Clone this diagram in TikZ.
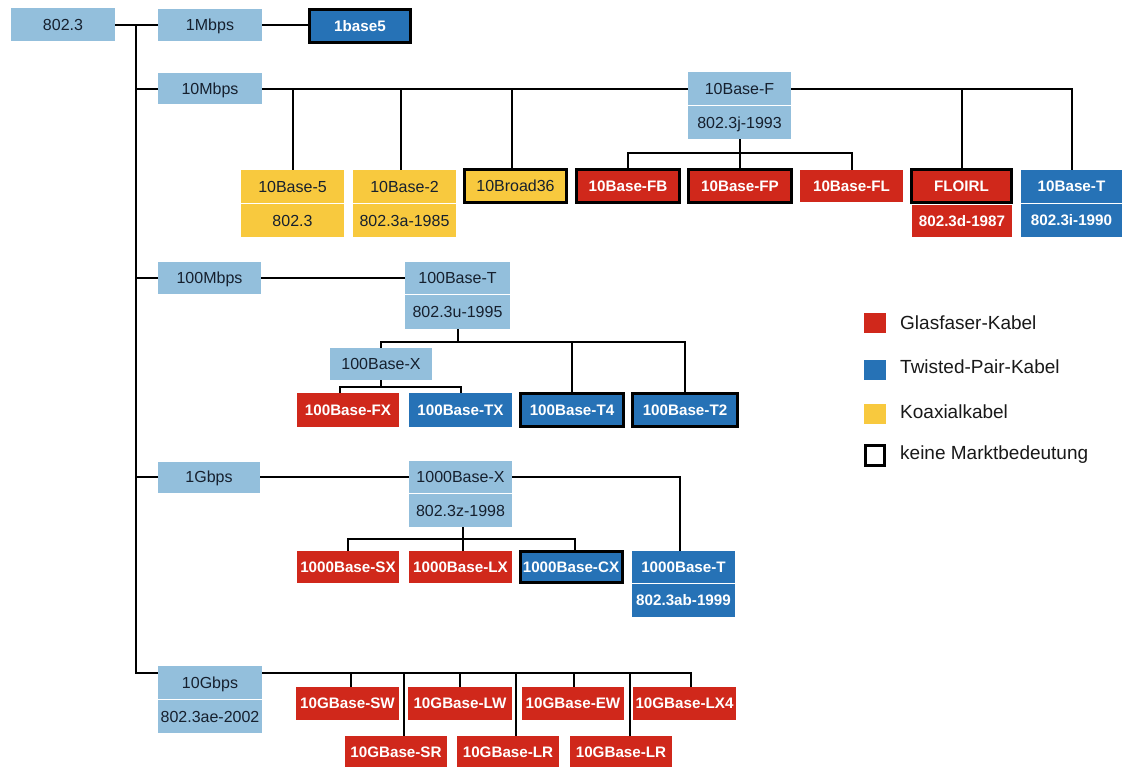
\documentclass[tikz,border=0pt]{standalone}
\usepackage{fontspec}
\setmainfont{Liberation Sans}
\definecolor{lblue}{HTML}{93BFDC}
\definecolor{cblue}{HTML}{2672B6}
\definecolor{cred}{HTML}{D0281B}
\definecolor{cyel}{HTML}{F8C93E}
\definecolor{ink}{HTML}{16202E}
\begin{document}
\begin{tikzpicture}[x=1pt,y=-1pt,
  box/.style={rectangle, inner sep=0pt, text height=11.5pt, text depth=0pt},
  sz/.style 2 args={minimum width=#1, minimum height=#2},
  lb/.style={box, fill=lblue, text=ink, font=\fontsize{16}{18}\selectfont},
  yl/.style={box, fill=cyel, text=ink, font=\fontsize{16}{18}\selectfont},
  rd/.style={box, fill=cred, text=white, font=\fontsize{15.2}{18}\selectfont\bfseries, text height=10.9pt},
  bl/.style={box, fill=cblue, text=white, font=\fontsize{15.2}{18}\selectfont\bfseries, text height=10.9pt},
  nomkt/.style={draw=black, line width=3pt},
  wire/.style={draw=black, line width=2pt},
  legsq/.style={rectangle, inner sep=0pt, minimum width=22pt, minimum height=20pt},
  legtxt/.style={anchor=base west, inner sep=0pt, text=black!90, font=\fontsize{19}{22}\selectfont}]
\useasboundingbox[fill=white] (0,0) rectangle (1127,767);

% ---------- root and 1 Mbps ----------
\node[lb, sz={104pt}{33pt}] (root) at (63,25) {802.3};
\node[lb, sz={104pt}{32pt}] (m1) at (210,25) {1Mbps};
\node[bl, nomkt, sz={101pt}{33pt}] (ob5) at (360,26) {1base5};

% ---------- 10 Mbps ----------
\node[lb, sz={104pt}{31pt}] (m10) at (210,89) {10Mbps};
\node[lb, sz={103pt}{33pt}] (tbf) at (739.5,89) {10Base-F};
\node[lb, sz={103pt}{33pt}] (bbf) at (739.5,122.5) {802.3j-1993};

\node[yl, sz={103pt}{33pt}] (t5) at (292.5,186.5) {10Base-5};
\node[yl, sz={103pt}{33pt}] (b5) at (292.5,220.5) {802.3};
\node[yl, sz={103pt}{33pt}] (t2) at (404.5,186.5) {10Base-2};
\node[yl, sz={103pt}{33pt}] (b2) at (404.5,220.5) {802.3a-1985};
\node[yl, nomkt, sz={102pt}{33pt}] (br36) at (515.5,186) {10Broad36};
\node[rd, nomkt, sz={103pt}{33pt}] (fb) at (628,186) {10Base-FB};
\node[rd, nomkt, sz={103pt}{33pt}] (fp) at (740,186) {10Base-FP};
\node[rd, sz={103pt}{32pt}] (fl) at (851.5,186) {10Base-FL};
\node[rd, nomkt, sz={100pt}{33pt}] (floirl) at (961.5,186) {FLOIRL};
\node[rd, sz={100pt}{32pt}] (floirlb) at (962,221) {802.3d-1987};
\node[bl, sz={101pt}{33pt}] (tt) at (1071.5,186.5) {10Base-T};
\node[bl, sz={101pt}{33pt}] (bt) at (1071.5,220.5) {802.3i-1990};

% ---------- 100 Mbps ----------
\node[lb, sz={103pt}{32pt}] (m100) at (209.5,278) {100Mbps};
\node[lb, sz={105pt}{32pt}] (t100) at (457.5,278) {100Base-T};
\node[lb, sz={105pt}{34pt}] (b100) at (457.5,312) {802.3u-1995};
\node[lb, sz={102pt}{32pt}] (x100) at (381,364) {100Base-X};
\node[rd, sz={102pt}{34pt}] (fx) at (348,410) {100Base-FX};
\node[bl, sz={103pt}{34pt}] (tx) at (460.5,410) {100Base-TX};
\node[bl, nomkt, sz={103pt}{33pt}] (t4) at (572,410) {100Base-T4};
\node[bl, nomkt, sz={105pt}{33pt}] (t2b) at (685,410) {100Base-T2};

% ---------- 1 Gbps ----------
\node[lb, sz={102pt}{31pt}] (m1g) at (209,477) {1Gbps};
\node[lb, sz={103pt}{32pt}] (txx) at (460.5,477) {1000Base-X};
\node[lb, sz={103pt}{33pt}] (bxx) at (460.5,510.5) {802.3z-1998};
\node[rd, sz={102pt}{32pt}] (sx) at (348,567) {1000Base-SX};
\node[rd, sz={103pt}{32pt}] (lx) at (460.5,567) {1000Base-LX};
\node[bl, nomkt, sz={102pt}{31pt}] (cx) at (571,567) {1000Base-CX};
\node[bl, sz={103pt}{32pt}] (tg) at (683.5,567) {1000Base-T};
\node[bl, sz={103pt}{33pt}] (bg) at (683.5,600.5) {802.3ab-1999};

% ---------- 10 Gbps ----------
\node[lb, sz={104pt}{33pt}] (m10g) at (210,682.5) {10Gbps};
\node[lb, sz={104pt}{33pt}] (m10gb) at (210,716.5) {802.3ae-2002};
\node[rd, sz={103pt}{33pt}] (sw) at (347.5,703.5) {10GBase-SW};
\node[rd, sz={104pt}{33pt}] (lw) at (460,703.5) {10GBase-LW};
\node[rd, sz={102pt}{33pt}] (ew) at (573,703.5) {10GBase-EW};
\node[rd, sz={103pt}{33pt}] (lx4) at (684.5,703.5) {10GBase-LX4};
\node[rd, sz={102pt}{32pt}] (sr) at (396,752) {10GBase-SR};
\node[rd, sz={102pt}{32pt}] (lr1) at (508,752) {10GBase-LR};
\node[rd, sz={102pt}{32pt}] (lr2) at (621,752) {10GBase-LR};

% ---------- connectors ----------
\coordinate (tk) at (136,25);
\path (m10g.north east) ++(0,7) coordinate (g0);
\draw[wire] (root) -- (m1);
\draw[wire] (m1.east) -- (m1.east -| ob5.west);
\draw[wire] (tk) -- (tk |- g0) -- (m10g.west |- g0);
\draw[wire] (tk |- m10) -- (m10);
\draw[wire] (tk |- m100) -- (m100);
\draw[wire] (tk |- m1g) -- (m1g);

% 10 Mbps family
\draw[wire] (m10) -- (tbf);
\draw[wire] (tbf.east) -| (tt.north);
\draw[wire] (t5.north) -- (t5.north |- tbf);
\draw[wire] ([xshift=-3.5pt]t2.north) -- ([xshift=-3.5pt]t2.north |- tbf);
\draw[wire] ([xshift=-3.5pt]br36.north) -- ([xshift=-3.5pt]br36.north |- tbf);
\draw[wire] (floirl.north) -- (floirl.north |- tbf);
\path (bbf.south) ++(0,14) coordinate (jf);
\draw[wire] (bbf.south) -- (jf);
\draw[wire] (fb.north) |- (jf) -| (fl.north);
\draw[wire] (fp.north) -- (fp.north |- jf);

% 100 Mbps family
\draw[wire] (m100) -- (t100);
\path (b100.south) ++(0,13) coordinate (j100);
\draw[wire] (b100.south) -- (j100);
\draw[wire] (x100.north) |- (j100) -| (t2b.north);
\draw[wire] (t4.north) -- (t4.north |- j100);
\path (x100.south) ++(0,7) coordinate (jx);
\draw[wire] (x100.south) -- (jx);
\draw[wire] ([xshift=-8pt]fx.north) |- (jx) -| (tx.north);

% 1 Gbps family
\draw[wire] (m1g) -- (txx);
\draw[wire] (txx.east) -| ([xshift=-3.5pt]tg.north);
\path (bxx.south) ++(2.5,12) coordinate (jg);
\draw[wire] (bxx.south -| jg) -- (jg);
\draw[wire] (sx.north) |- (jg) -| ([xshift=4pt]cx.north);
\draw[wire] (lx.north -| jg) -- (jg);

% 10 Gbps family
\draw[wire] (g0) -| ([xshift=6.5pt]lx4.north);
\draw[wire] ([xshift=3.5pt]sw.north) -- ([xshift=3.5pt]sw.north |- g0);
\draw[wire] (lw.north) -- (lw.north |- g0);
\draw[wire] ([xshift=1pt]ew.north) -- ([xshift=1pt]ew.north |- g0);
\draw[wire] ([xshift=8pt]sr.north) -- ([xshift=8pt]sr.north |- g0);
\draw[wire] ([xshift=8pt]lr1.north) -- ([xshift=8pt]lr1.north |- g0);
\draw[wire] ([xshift=9pt]lr2.north) -- ([xshift=9pt]lr2.north |- g0);

% ---------- legend ----------
\node[legsq, fill=cred] (lg1) at (875,323) {};
\node[legsq, fill=cblue] (lg2) at (875,370) {};
\node[legsq, fill=cyel] (lg3) at (875,414) {};
\node[legsq, draw=black, line width=3pt, minimum width=19pt, minimum height=20pt] (lg4) at (874.5,455) {};
\node[legtxt] (lt1) at (900,329) {Glasfaser-Kabel};
\node[legtxt] (lt2) at (900,373) {Twisted-Pair-Kabel};
\node[legtxt] (lt3) at (900,418) {Koaxialkabel};
\node[legtxt] (lt4) at (900,459) {keine Marktbedeutung};
\end{tikzpicture}
\end{document}
